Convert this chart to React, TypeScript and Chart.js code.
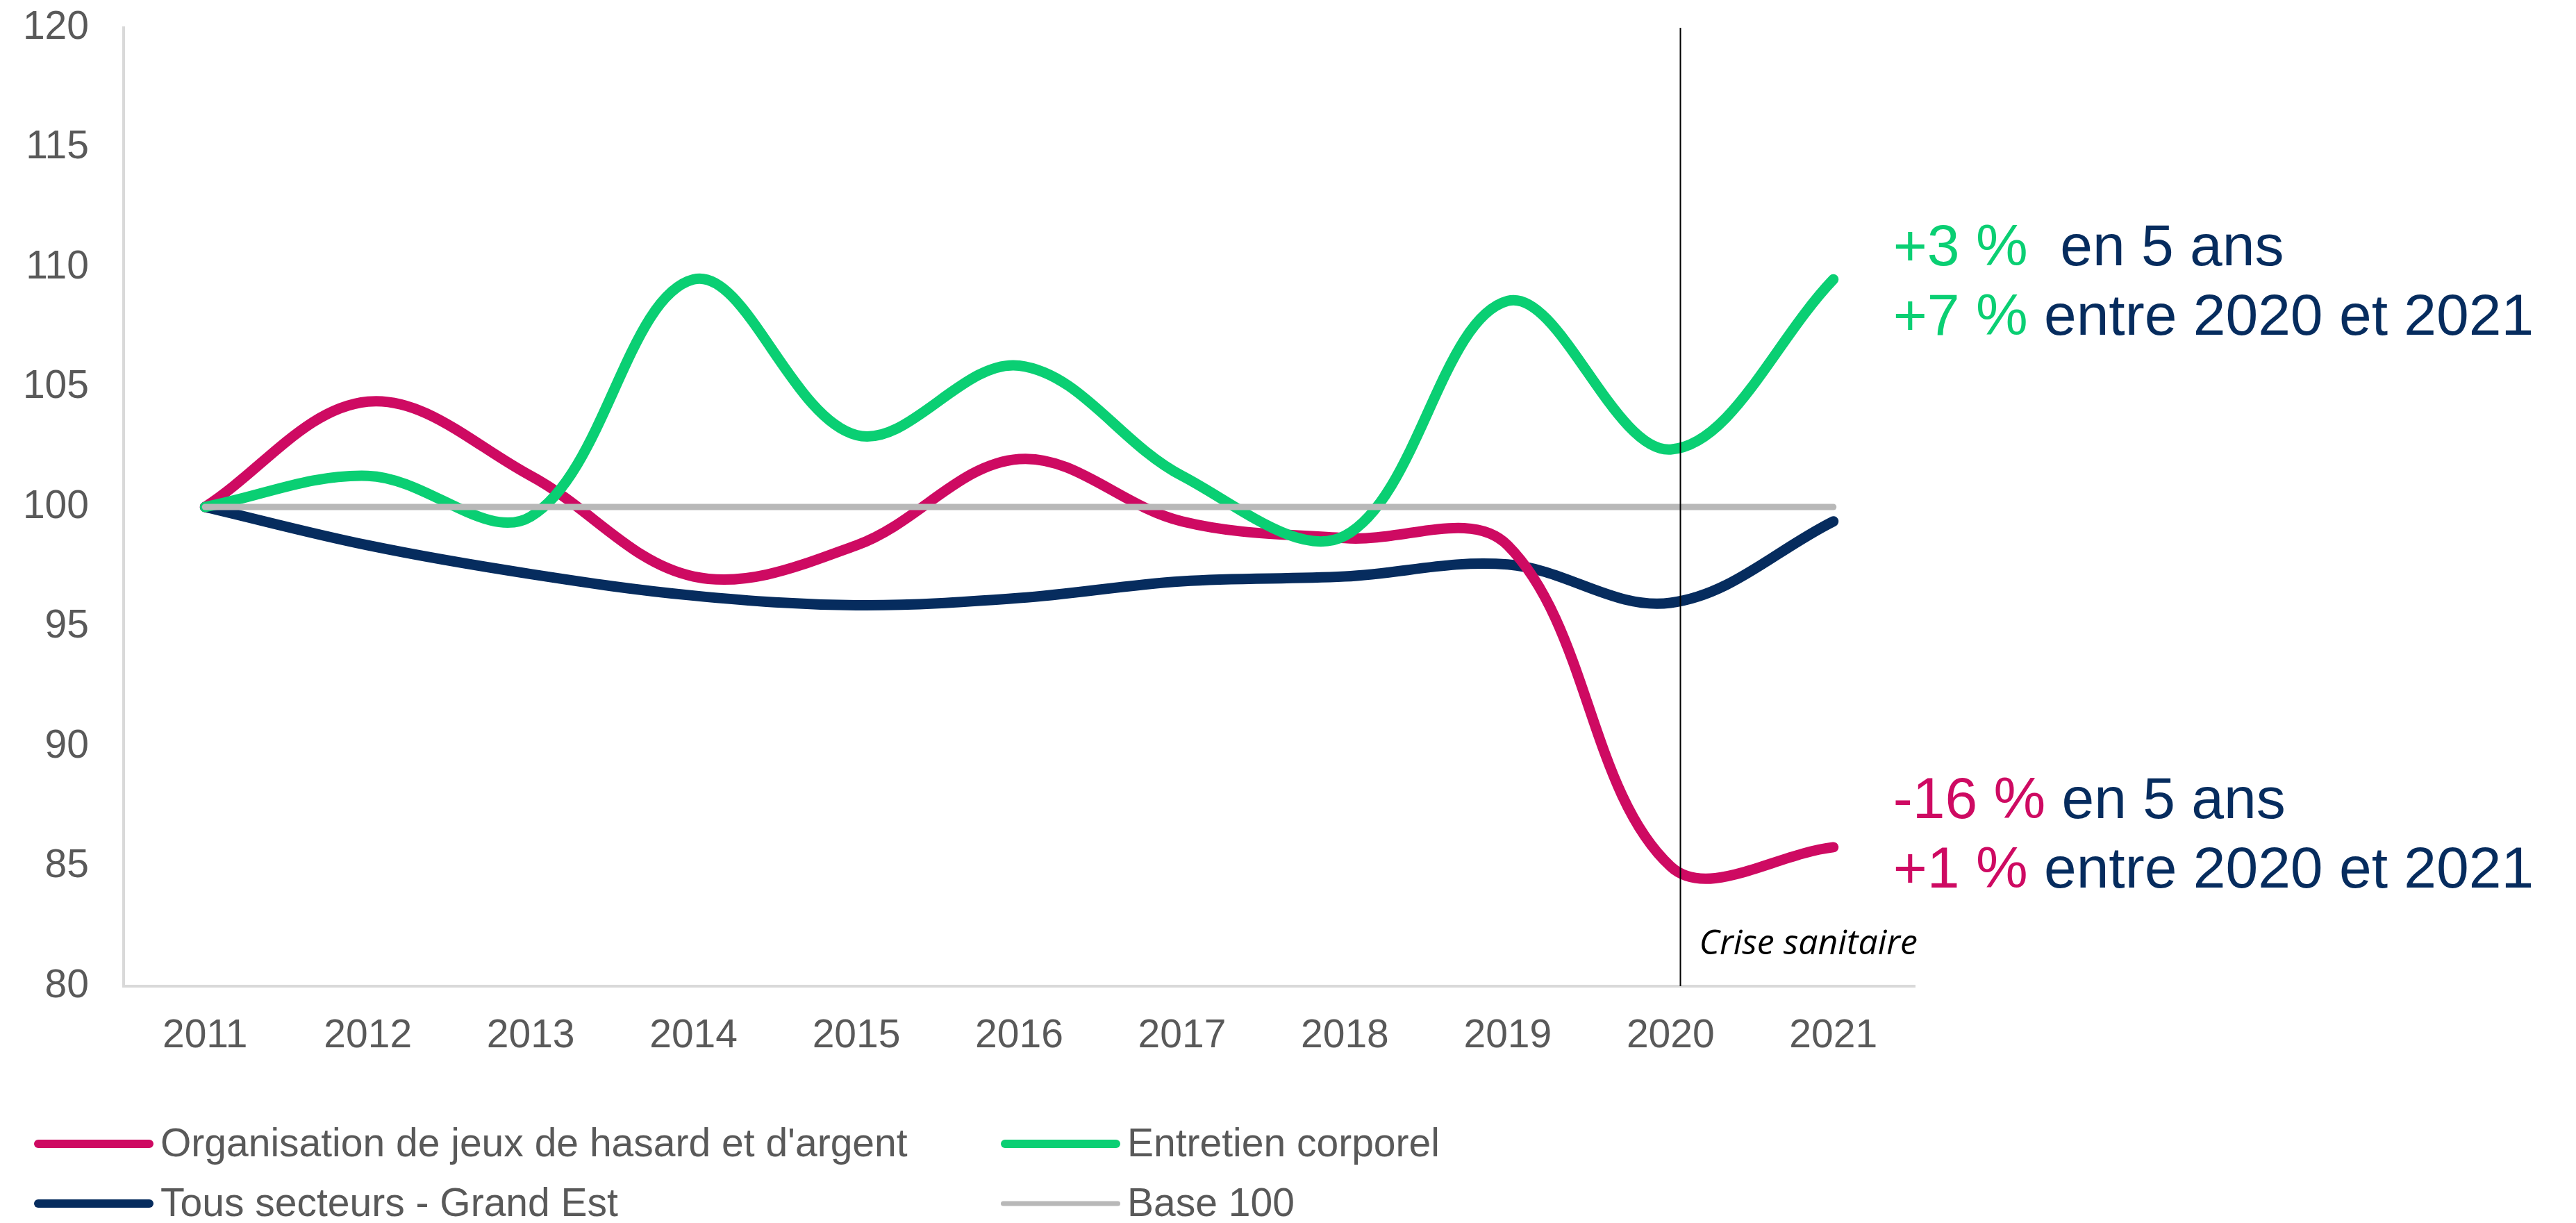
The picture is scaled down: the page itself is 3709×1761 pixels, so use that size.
import React, { useEffect, useRef } from "react";
import { Chart, registerables } from "chart.js";

Chart.register(...registerables);

// ---------- data ----------
const years = ["2011", "2012", "2013", "2014", "2015", "2016", "2017", "2018", "2019", "2020", "2021"];
const jeuxValues = [100, 104.4, 101.3, 97.1, 98.4, 102.0, 99.4, 98.7, 98.4, 85.0, 85.8];
const entretienValues = [100, 101.3, 99.6, 109.5, 103.0, 105.9, 101.3, 98.8, 108.6, 102.4, 109.5];
const tousSecteursValues = [100, 98.4, 97.2, 96.3, 95.9, 96.2, 96.9, 97.1, 97.6, 96.0, 99.4];
const baseValues = [100, 100, 100, 100, 100, 100, 100, 100, 100, 100, 100];
const seriesLabels = [
  "Organisation de jeux de hasard et d'argent",
  "Entretien corporel",
  "Tous secteurs - Grand Est",
  "Base 100",
];
const yMin = 80;
const yMax = 120;
const yStep = 5;
const crisisYear = "2020";
const crisisLabel = "Crise sanitaire";
const greenNote = [
  ["+3 %", "  en 5 ans"],
  ["+7 %", " entre 2020 et 2021"],
];
const pinkNote = [
  ["-16 %", " en 5 ans"],
  ["+1 %", " entre 2020 et 2021"],
];

// ---------- styles ----------
const PINK = "#CE0A62";
const GREEN = "#0ACF73";
const NAVY = "#062C5E";
const GREY = "#B8B8B8";
const AXIS = "#D9D9D9";
const TEXT = "#595959";
const FONT = "'Liberation Sans', Arial, sans-serif";

const overlayPlugin = {
  id: "overlay",
  afterDatasetsDraw(chart: any) {
    const { ctx, chartArea, scales } = chart;
    const xs = scales.x;
    const ys = scales.y;
    const ci = years.indexOf(crisisYear);
    const lx = Math.round(xs.getPixelForValue(ci + 0.06)) + 0.5;
    ctx.save();
    ctx.strokeStyle = "#000000";
    ctx.lineWidth = 2;
    ctx.beginPath();
    ctx.moveTo(lx, chartArea.top);
    ctx.lineTo(lx, chartArea.bottom);
    ctx.stroke();

    ctx.fillStyle = "#000000";
    ctx.font = "italic 50px 'Open Sans', sans-serif";
    ctx.textBaseline = "middle";
    ctx.textAlign = "left";
    ctx.fillText(crisisLabel, lx + 27, chartArea.bottom - 60);

    // notes
    ctx.font = `84px ${FONT}`;
    const noteX = xs.getPixelForValue(years.length - 1) + 86;
    const drawNote = (lines: string[][], color: string, yVals: number[]) => {
      lines.forEach((parts, i) => {
        const y = ys.getPixelForValue(yVals[i]);
        ctx.fillStyle = color;
        ctx.fillText(parts[0], noteX, y);
        const w = ctx.measureText(parts[0]).width;
        ctx.fillStyle = NAVY;
        ctx.fillText(parts[1], noteX + w, y);
      });
    };
    drawNote(greenNote, GREEN, [110.75, 107.85]);
    drawNote(pinkNote, PINK, [87.7, 84.8]);
    ctx.restore();
  },
  afterDraw(chart: any) {
    const { ctx } = chart;
    const ds = chart.data.datasets;
    const cols = [49, 1441];
    const rows = [1647, 1733];
    ctx.save();
    ctx.font = `57px ${FONT}`;
    ctx.textBaseline = "middle";
    ctx.textAlign = "left";
    seriesLabels.forEach((label, i) => {
      const d = ds[i];
      const x = cols[i % 2];
      const y = rows[Math.floor(i / 2)];
      const lw = Math.round(d.borderWidth * 0.8);
      ctx.strokeStyle = d.borderColor;
      ctx.lineWidth = lw;
      ctx.lineCap = "round";
      ctx.beginPath();
      ctx.moveTo(x + lw / 2, y);
      ctx.lineTo(x + 172 - lw / 2, y);
      ctx.stroke();
      ctx.fillStyle = TEXT;
      ctx.fillText(label, x + 182, y + 2);
    });
    ctx.restore();
  },
};

export default function App() {
  const ref = useRef<HTMLCanvasElement>(null);
  useEffect(() => {
    if (!ref.current) return;
    const mk = (label: string, data: number[], color: string, width: number, order: number) => ({
      label,
      data,
      borderColor: color,
      backgroundColor: color,
      borderWidth: width,
      pointRadius: 0,
      pointHoverRadius: 0,
      tension: 0.36,
      fill: false,
      borderCapStyle: "round" as const,
      borderJoinStyle: "round" as const,
      order,
    });
    const chart = new Chart(ref.current, {
      type: "line",
      data: {
        labels: years,
        datasets: [
          mk(seriesLabels[0], jeuxValues, PINK, 15, 2),
          mk(seriesLabels[1], entretienValues, GREEN, 15, 1),
          mk(seriesLabels[2], tousSecteursValues, NAVY, 15, 3),
          mk(seriesLabels[3], baseValues, GREY, 9, 0),
        ],
      },
      options: {
        responsive: false,
        animation: false,
        events: [],
        layout: { padding: { left: 0, top: 40, right: 952, bottom: 211 } },
        plugins: {
          legend: { display: false },
          tooltip: { enabled: false },
        },
        scales: {
          x: {
            type: "category",
            offset: true,
            grid: { display: false, drawTicks: false },
            border: { display: true, color: AXIS, width: 4 },
            ticks: { color: TEXT, font: { family: FONT, size: 57 }, padding: 38, maxRotation: 0, autoSkip: false },
            afterFit: (s: any) => {
              s.height = 130;
              s.paddingLeft = 0;
              s.paddingRight = 0;
            },
          },
          y: {
            min: yMin,
            max: yMax,
            grid: { display: false, drawTicks: false },
            border: { display: true, color: AXIS, width: 4 },
            ticks: { stepSize: yStep, color: TEXT, font: { family: FONT, size: 57 }, padding: 50 },
            afterFit: (s: any) => {
              s.width = 178;
              s.paddingTop = 0;
              s.paddingBottom = 0;
            },
          },
        },
      },
      plugins: [overlayPlugin],
    });
    return () => chart.destroy();
  }, []);
  return (
    <div style={{ position: "fixed", left: 0, top: 0, width: 3709, height: 1761, background: "#ffffff" }}>
      <canvas ref={ref} width={3709} height={1761} style={{ display: "block" }} />
    </div>
  );
}
